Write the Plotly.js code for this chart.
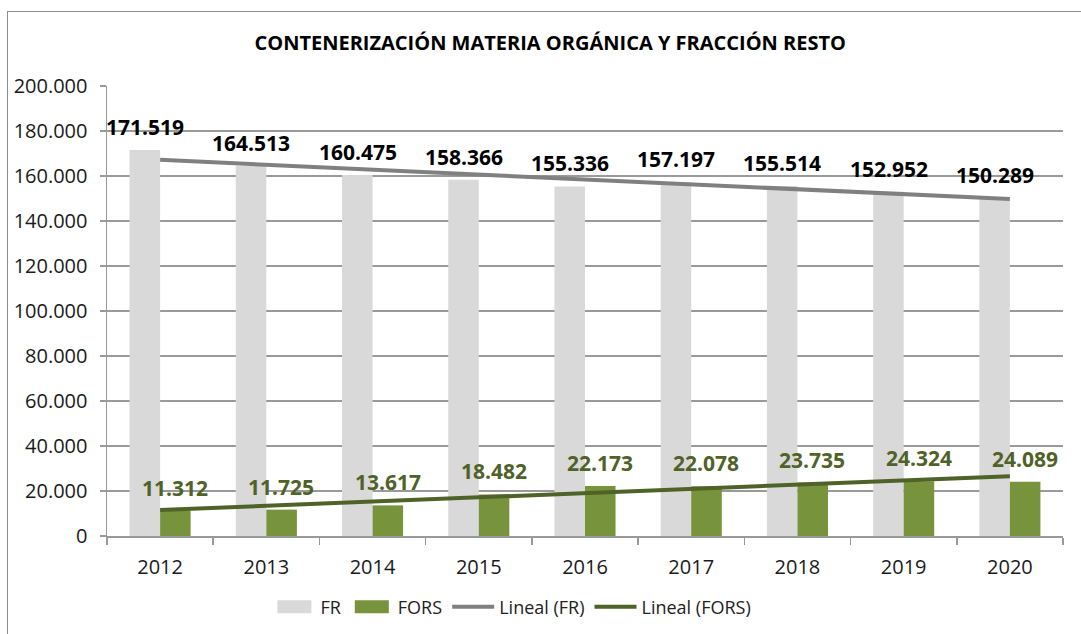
<!DOCTYPE html>
<html>
<head>
<meta charset="utf-8">
<script src="https://cdn.plot.ly/plotly-3.0.1.min.js"></script>
<style>
  html, body { margin: 0; padding: 0; background: #fff; overflow: hidden; }
  #frame { position: absolute; left: 7px; top: 11px; width: 1200px; height: 800px; border: 1.5px solid #8c8c8c; box-sizing: border-box; }
  #chart { position: absolute; left: 0; top: 0; width: 1081px; height: 634px; }
</style>
</head>
<body>
<div id="frame"></div>
<div id="chart"></div>
<script>
const years = ['2012','2013','2014','2015','2016','2017','2018','2019','2020'];
const fr = [171519, 164513, 160475, 158366, 155336, 157197, 155514, 152952, 150289];
const fors = [11312, 11725, 13617, 18482, 22173, 22078, 23735, 24324, 24089];
const yTicks = [0, 20000, 40000, 60000, 80000, 100000, 120000, 140000, 160000, 180000, 200000];

// Excel-style linear trendline (least squares over category index)
function linearTrend(vals) {
  const n = vals.length;
  let sx = 0, sy = 0, sxx = 0, sxy = 0;
  vals.forEach((v, i) => { sx += i; sy += v; sxx += i * i; sxy += i * v; });
  const b = (n * sxy - sx * sy) / (n * sxx - sx * sx);
  const a = (sy - b * sx) / n;
  return vals.map((_, i) => a + b * i);
}

const fmt = v => v.toLocaleString('de-DE');
const FONT = 'Open Sans, Lato, sans-serif';

const traces = [
  { type: 'bar', name: 'FR', x: years, y: fr, marker: { color: '#d9d9d9' }, hoverinfo: 'skip' },
  { type: 'bar', name: 'FORS', x: years, y: fors, marker: { color: '#77933c' }, hoverinfo: 'skip' },
  { type: 'scatter', mode: 'lines', name: 'Lineal (FR)', x: years, y: linearTrend(fr),
    line: { color: '#808080', width: 4 }, hoverinfo: 'skip' },
  { type: 'scatter', mode: 'lines', name: 'Lineal (FORS)', x: years, y: linearTrend(fors),
    line: { color: '#4f6228', width: 4 }, hoverinfo: 'skip' }
];

const annotations = [];
years.forEach((yr, i) => {
  annotations.push({ x: i, y: fr[i], xref: 'x', yref: 'y', text: fmt(fr[i]), showarrow: false,
    xshift: -15, yshift: 7, yanchor: 'bottom', font: { family: FONT, size: 21, color: '#000', weight: 'bold' } });
  annotations.push({ x: i, y: fors[i], xref: 'x', yref: 'y', text: fmt(fors[i]), showarrow: false,
    xshift: 15, yshift: 7, yanchor: 'bottom', font: { family: FONT, size: 21, color: '#4f6228', weight: 'bold' } });
});

const layout = {
  width: 1081, height: 634,
  paper_bgcolor: 'rgba(0,0,0,0)', plot_bgcolor: 'rgba(0,0,0,0)',
  margin: { l: 107, r: 18, t: 86, b: 98 },
  separators: ',.',
  font: { family: FONT, color: '#222' },
  title: { text: 'CONTENERIZACIÓN MATERIA ORGÁNICA Y FRACCIÓN RESTO',
    font: { family: FONT, size: 20, color: '#000', weight: 'bold' },
    xref: 'container', yref: 'container', x: 0.509, y: 1 - 43 / 634, xanchor: 'center', yanchor: 'middle' },
  barmode: 'group', bargap: 0.425, bargroupgap: 0,
  showlegend: true,
  legend: { orientation: 'h', xref: 'container', yref: 'container', x: 0.474, xanchor: 'center', y: 1 - 607 / 634, yanchor: 'middle',
    font: { family: FONT, size: 18, color: '#222' }, traceorder: 'normal', itemwidth: 42 },
  xaxis: { type: 'category', range: [-0.5, 8.5], tickson: 'boundaries', ticks: 'outside', ticklen: 7, tickcolor: '#999', tickwidth: 1.5,
    showline: true, linecolor: '#999', linewidth: 1.5, showgrid: false, automargin: false, ticklabelstandoff: 12,
    tickfont: { family: FONT, size: 20, color: '#1a1a1a' } },
  yaxis: { range: [0, 200000], tickvals: yTicks, tickformat: ',d', ticks: 'outside', ticklen: 6, tickcolor: '#999', tickwidth: 1.5,
    showline: true, linecolor: '#999', linewidth: 1.5, showgrid: true, gridcolor: '#9a9a9a', gridwidth: 1.5, automargin: false,
    ticklabelstandoff: 8, zeroline: false, tickfont: { family: FONT, size: 20, color: '#1a1a1a' } },
  annotations: annotations
};

function widenSwatches(gd) {
  // Excel-like wide legend swatches for the bar series
  gd.querySelectorAll('.legend .legendpoints path').forEach(p => {
    const d = p.getAttribute('d') || '';
    if (/^M6,6H-6V-6H6Z/.test(d.replace(/\s/g, ''))) p.setAttribute('d', 'M17,6.5H-17V-6.5H17Z');
  });
}

Plotly.newPlot('chart', traces, layout, { displayModeBar: false, staticPlot: true }).then(gd => {
  widenSwatches(gd);
  setTimeout(() => widenSwatches(gd), 50);
});
</script>
</body>
</html>
